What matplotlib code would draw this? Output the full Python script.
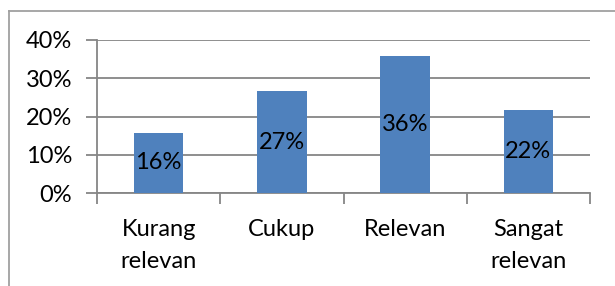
import numpy as np
import matplotlib.pyplot as plt
from matplotlib.lines import Line2D

categories = ['Kurang\nrelevan', 'Cukup', 'Relevan', 'Sangat\nrelevan']
values = [0.157, 0.266, 0.359, 0.218]
labels = ['16%', '27%', '36%', '22%']
yticks = [0, 0.1, 0.2, 0.3, 0.4]
ytick_labels = ['0%', '10%', '20%', '30%', '40%']

plt.rcParams['font.family'] = ['Lato', 'DejaVu Sans']
grey = '#868686'

fig = plt.figure(figsize=(6.15, 2.86), dpi=100)
ax = fig.add_axes([97 / 615, 1 - 193 / 286, 493 / 615, 153 / 286])

x = np.arange(len(categories))
ax.bar(x, values, width=0.4, color='#4f81bd', zorder=3)
for xi, v, lab in zip(x, values, labels):
    ax.text(xi, v / 2, lab, ha='center', va='center', fontsize=17, color='black', zorder=4)

ax.set_xlim(-0.5, len(categories) - 0.5)
ax.set_ylim(0, 0.4)
ax.set_yticks(yticks)
ax.set_yticklabels(ytick_labels, fontsize=17)
ax.yaxis.grid(True, color=grey, linewidth=1.3, zorder=0)

ax.set_xticks(np.arange(-0.5, len(categories), 1.0))
ax.set_xticklabels([])
ax.set_xticks(x, minor=True)
ax.set_xticklabels(categories, minor=True, fontsize=17, linespacing=1.6)
ax.tick_params(axis='x', which='minor', length=0, pad=19)
ax.tick_params(axis='x', which='major', length=8, color=grey, width=1.3)
ax.tick_params(axis='y', length=8, color=grey, width=1.3, pad=10)

for s in ['top', 'right']:
    ax.spines[s].set_visible(False)
ax.spines['left'].set_color(grey)
ax.spines['bottom'].set_color(grey)
ax.spines['left'].set_linewidth(1.3)
ax.spines['bottom'].set_linewidth(1.3)

# outer chart border
fig.add_artist(Line2D([9 / 615, 1], [1 - 11 / 286, 1 - 11 / 286], color='#a0a0a0', linewidth=1.3))
fig.add_artist(Line2D([9 / 615, 9 / 615], [0, 1 - 11 / 286], color='#a0a0a0', linewidth=1.3))

fig.savefig('out.png', dpi=100)
